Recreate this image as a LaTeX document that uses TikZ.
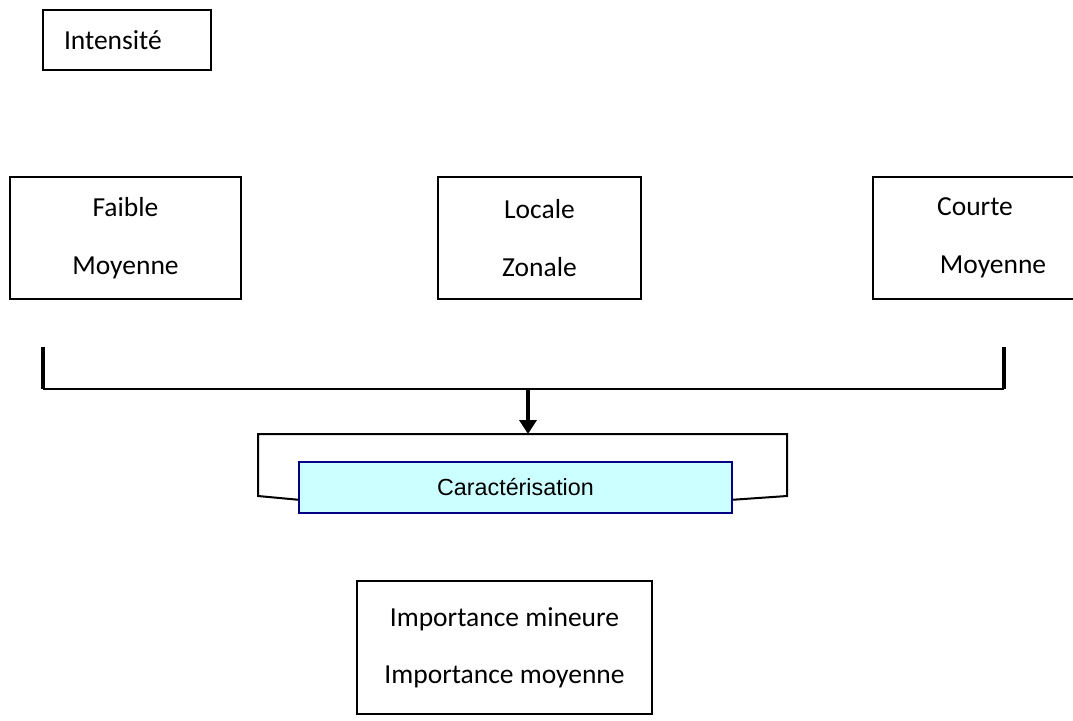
\documentclass[tikz,border=0pt]{standalone}
\usepackage{fontspec}
\setmainfont{Carlito}
\newfontfamily\arialfont{Liberation Sans}
\usetikzlibrary{arrows.meta, positioning}
\definecolor{cfill}{RGB}{204,255,255}
\definecolor{cnavy}{RGB}{  0,  0,128}
\tikzset{
  % Plain white criterion box
  CB/.style={rectangle,draw=black,fill=white,line width=1.5pt,
             minimum width=#1,minimum height=122pt,align=center,
             font=\fontsize{27.5}{58}\selectfont,inner sep=0pt},
  CB/.default=203pt,
  % Cyan result box
  KB/.style={rectangle,draw=cnavy,fill=cfill,line width=1.5pt,
             minimum width=433pt,minimum height=51pt,align=center,
             font=\arialfont\fontsize{23.3}{28}\selectfont,inner sep=0pt},
  % Bracket lines
  Bar/.style ={line width=4pt,color=black},
  Lin/.style ={line width=2pt,color=black},
  Arr/.style ={-{Triangle[length=14pt,width=17pt]},line width=4pt,color=black},
}
\begin{document}
\begin{tikzpicture}[x=1pt,y=-1pt]
        \useasboundingbox (0,0) rectangle (1073,720);
        % Title box
        \node[rectangle,draw,line width=1.5pt,text width=126pt,align=left,
              inner xsep=21pt,minimum height=60pt,
              font=\fontsize{27.5}{33}\selectfont]
              at (127,40) (intens) {Intensité};
        % Three criterion boxes
        \node[CB=231pt] at (125.5,238) (inten) {Faible\\Moyenne};
        \node[CB]       at (539.5,238) (etend) {Locale\\Zonale};
        \node[CB=204pt] at (975,238)   (duree)
              {Courte\\\hspace*{36pt}Moyenne};
        % Gathering bracket
        \coordinate (bl)  at (43,347);
        \coordinate (blb) at (43,389);
        \coordinate (br)  at (1004,347);
        \coordinate (brb) at (1004,389);
        \coordinate (jn)  at (528,389);
        \coordinate (ct)  at (528,434);
        \draw[Bar] (bl) -- (blb);
        \draw[Bar] (br) -- (brb);
        \draw[Lin] (blb) -- (brb);
        % Characterisation box with its frame
        \node[KB] at (515.5,487.5) (car) {Caractérisation};
        \draw[Lin,line join=miter] ([yshift=14pt]car.south west) -- (258,496)
              -- (258,434) -- (787,434) -- (787,496)
              -- ([yshift=14pt]car.south east);
        \draw[Arr] (jn) -- (ct);
        % Result box
        \node[CB=295pt,minimum height=133pt,font=\fontsize{27.5}{57}\selectfont]
              at (504.5,647.5) (imp)
              {Importance mineure\\Importance moyenne};
\end{tikzpicture}
\end{document}
